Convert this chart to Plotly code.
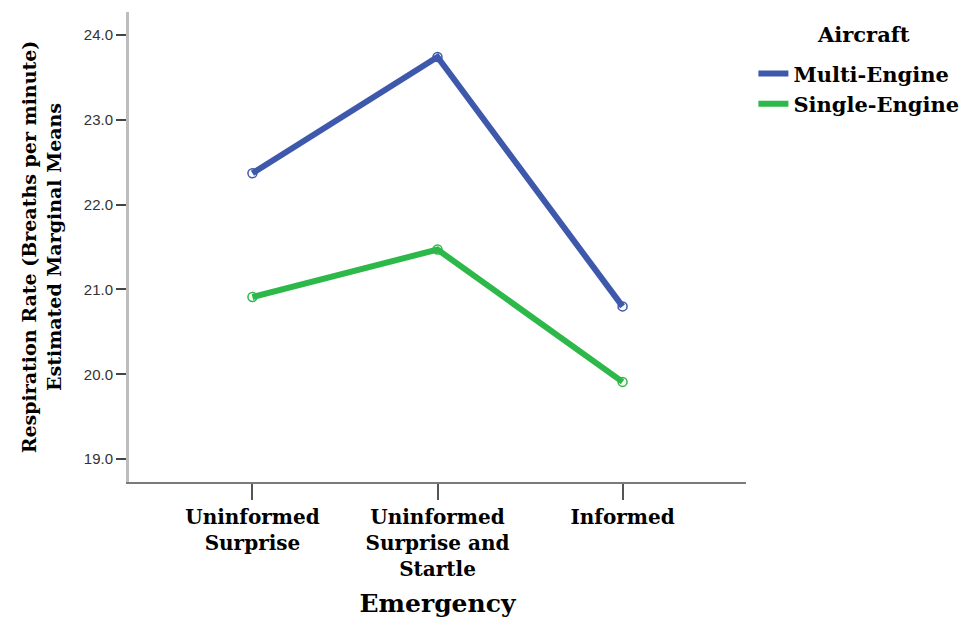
import plotly.graph_objects as go

# Estimated marginal means of respiration rate by emergency type and aircraft
emergency = ["Uninformed<br>Surprise", "Uninformed<br>Surprise and<br>Startle", "Informed"]
multi_engine = [22.37, 23.74, 20.80]
single_engine = [20.91, 21.47, 19.91]
y_ticks = [19.0, 20.0, 21.0, 22.0, 23.0, 24.0]

BLUE = "#3E58AC"
GREEN = "#2DB84A"
SERIF = "DejaVu Serif"
SANS = "Liberation Sans"

fig = go.Figure()

for name, vals, col in [("Multi-Engine", multi_engine, BLUE),
                        ("Single-Engine", single_engine, GREEN)]:
    # line drawn thick, listed in the legend
    fig.add_trace(go.Scatter(
        x=emergency, y=vals, mode="lines", name=name,
        line=dict(color=col, width=6), hoverinfo="skip",
    ))
    # open circle at each mean
    fig.add_trace(go.Scatter(
        x=emergency, y=vals, mode="markers", showlegend=False,
        marker=dict(symbol="circle-open", size=9, color=col,
                    line=dict(width=1.5, color=col)),
        hoverinfo="skip",
    ))

fig.update_layout(
    width=979, height=618,
    margin=dict(l=129, r=233, t=12, b=136),
    paper_bgcolor="white", plot_bgcolor="white",
    showlegend=True,
    legend=dict(
        x=1.012, y=0.912, xanchor="left", yanchor="top",
        font=dict(family=SERIF, size=21, color="black", weight="bold"),
        bgcolor="rgba(0,0,0,0)", tracegroupgap=0,
    ),
    annotations=[dict(
        text="Aircraft", xref="paper", yref="paper", x=1.19, y=0.952,
        xanchor="center", yanchor="middle", showarrow=False,
        font=dict(family=SERIF, size=21, color="black", weight="bold"),
    )],
    xaxis=dict(
        type="category", range=[-0.667, 2.667], automargin=False,
        showgrid=False, zeroline=False,
        showline=True, linecolor="#7a7a7a", linewidth=2,
        ticks="outside", ticklen=16, tickwidth=2, tickcolor="#555555",
        tickfont=dict(family=SERIF, size=20, color="black", weight="bold"),
        title=dict(text="Emergency", standoff=18,
                   font=dict(family=SERIF, size=25, color="black", weight="bold")),
    ),
    yaxis=dict(
        range=[18.73, 24.27], automargin=False,
        tickvals=y_ticks, ticktext=[f"{v:.1f}" for v in y_ticks],
        showgrid=False, zeroline=False,
        showline=True, linecolor="#bdbdbd", linewidth=3,
        ticks="outside", ticklen=10, tickwidth=2, tickcolor="#444444",
        tickfont=dict(family=SANS, size=15, color="#333333"),
        title=dict(text="Respiration Rate (Breaths per minute)<br>Estimated Marginal Means",
                   standoff=18,
                   font=dict(family=SERIF, size=19, color="black", weight="bold")),
    ),
)

fig.write_html("out.html")
